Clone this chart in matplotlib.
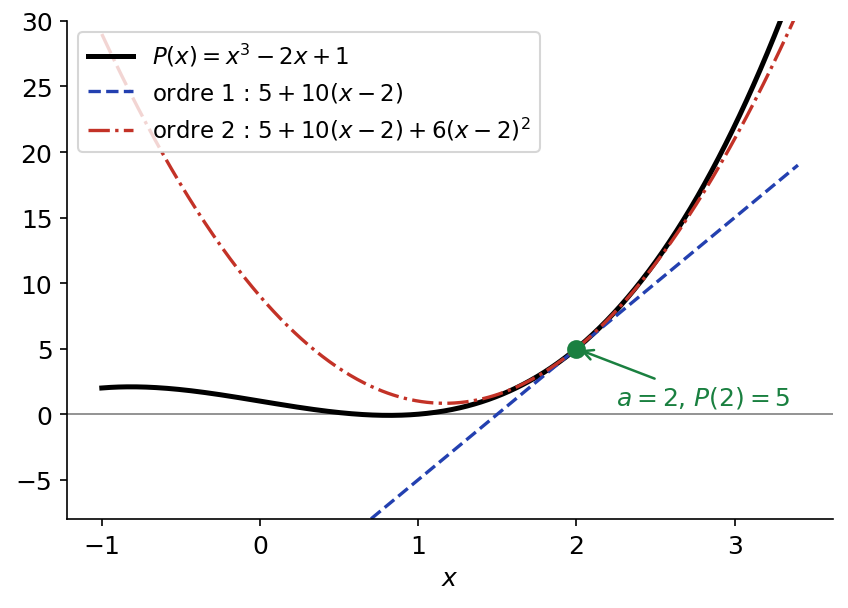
import numpy as np
import matplotlib
matplotlib.use("Agg")
import matplotlib.pyplot as plt

# data definitions
x_range = [-1.0, 3.4]
poly_coeffs = [1, 0, -2, 1]          # P(x) = x^3 - 2x + 1
a_point = 2
P_a = 5
dP_a = 10
half_d2P_a = 6
y_limits = [-8, 30]
labels = [r"$P(x) = x^3 - 2x + 1$",
          r"ordre 1 : $5 + 10(x-2)$",
          r"ordre 2 : $5 + 10(x-2) + 6(x-2)^2$"]
annot_text = r"$a = 2$, $P(2) = 5$"

x = np.linspace(x_range[0], x_range[1], 500)
P = np.polyval(poly_coeffs, x)
T1 = P_a + dP_a * (x - a_point)
T2 = T1 + half_d2P_a * (x - a_point) ** 2

fig = plt.figure(figsize=(848/150, 609/150), dpi=150)
ax = fig.add_axes([0.079, 0.146, 0.903, 0.818])

ax.axhline(0, color="gray", lw=0.8)
ax.plot(x, P, color="black", lw=2.4, label=labels[0])
ax.plot(x, T1, color="#2340b0", lw=1.6, ls="--", label=labels[1])
ax.plot(x, T2, color="#c33227", lw=1.6, ls="-.", label=labels[2])
ax.plot([a_point], [P_a], "o", color="#1a8040", ms=8, zorder=5)
ax.annotate(annot_text, xy=(a_point, P_a), xytext=(2.25, 0.3),
            ha="left", va="bottom", fontsize=12, color="#1a8040",
            arrowprops=dict(arrowstyle="->", color="#1a8040", lw=1.2))

ax.set_ylim(*y_limits)
ax.set_xlabel(r"$x$", fontsize=12)
ax.tick_params(labelsize=12)
ax.spines["top"].set_visible(False)
ax.spines["right"].set_visible(False)
ax.legend(loc="upper left", fontsize=11)

fig.savefig("out.png", dpi=150)
